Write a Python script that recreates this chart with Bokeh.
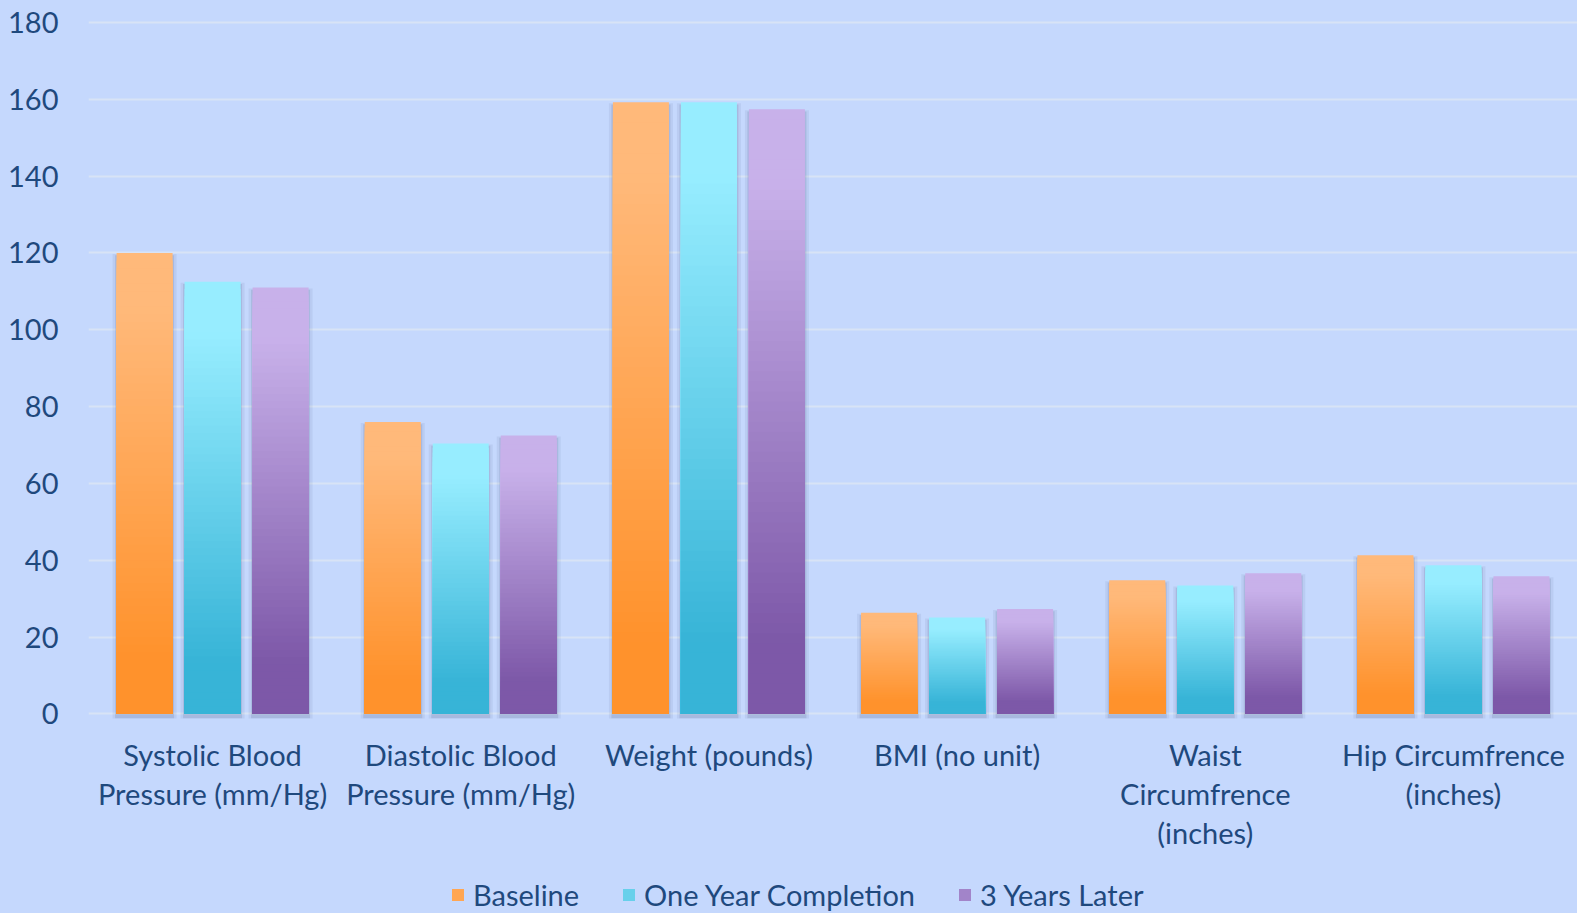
from bokeh.plotting import figure
from bokeh.layouts import column
from bokeh.models import ColumnDataSource, FixedTicker, Legend, LegendItem, Range1d
from bokeh.embed import file_html
from bokeh.resources import INLINE

# ---- data -------------------------------------------------------------
categories = [
    "Systolic Blood\nPressure (mm/Hg)",
    "Diastolic Blood\nPressure (mm/Hg)",
    "Weight (pounds)",
    "BMI (no unit)",
    "Waist\nCircumfrence\n(inches)",
    "Hip Circumfrence\n(inches)",
]
series_names = ["Baseline", "One Year Completion", "3 Years Later"]
baseline = [120, 76, 159.2, 26.3, 34.8, 41.3]
one_year = [112.5, 70.4, 159.2, 25.1, 33.4, 38.7]
three_years = [111, 72.5, 157.4, 27.3, 36.6, 35.8]
y_ticks = [0, 20, 40, 60, 80, 100, 120, 140, 160, 180]

# ---- style --------------------------------------------------------------
BG = "#c5d8fd"
GRID = "#d8e3f6"
TEXT = "#1f497d"
FONT = "Lato"
# (top colour, bottom colour) of each series' vertical gradient
gradients = [
    ((255, 185, 122), (255, 146, 44)),
    ((151, 237, 255), (55, 180, 215)),
    ((200, 177, 234), (125, 88, 168)),
]

W, H = 1577, 913
LEFT, TOP = 88, 20
LEGEND_H = 56
Y0, Y1 = -1.2, 180.5
PX_PER_Y = 3.844
FRAME_H = int(round((Y1 - Y0) * PX_PER_Y))
FRAME_W = W - LEFT
PX_PER_X = FRAME_W / 6.0

bar_w = 56 / PX_PER_X
step = 68 / PX_PER_X
offsets = [-step, 0.0, step]
N_SLICES = 60


def mix(c_top, c_bot, f):
    # f = 1 at the top of the bar, 0 at its base
    lo, hi = 0.12, 0.88
    t = min(max((f - lo) / (hi - lo), 0.0), 1.0)
    r, g, b = (round(c_bot[k] + (c_top[k] - c_bot[k]) * t) for k in range(3))
    return "#%02x%02x%02x" % (r, g, b)


p = figure(
    frame_width=FRAME_W, frame_height=FRAME_H,
    x_range=Range1d(-0.5, 5.5), y_range=Range1d(Y0, Y1),
    output_backend="svg", toolbar_location=None,
    min_border_left=LEFT, min_border_right=0, min_border_top=TOP,
    min_border_bottom=H - TOP - FRAME_H - LEGEND_H,
    background_fill_alpha=0, border_fill_color=BG, outline_line_color=None,
)

# gridlines
p.xgrid.grid_line_color = None
p.ygrid.ticker = FixedTicker(ticks=y_ticks)
p.ygrid.grid_line_color = GRID
p.ygrid.grid_line_width = 2

# soft shadows behind the bars
sh = dict(left=[], right=[], top=[], bottom=[])
sh2 = dict(left=[], right=[], top=[], bottom=[])
for s, vals in enumerate([baseline, one_year, three_years]):
    for i, v in enumerate(vals):
        cx = i + offsets[s]
        for d, e in ((sh, 1.5), (sh2, 4.0)):
            d["left"].append(cx - bar_w / 2 - e / PX_PER_X)
            d["right"].append(cx + bar_w / 2 + e / PX_PER_X)
            d["top"].append(v - (3 - e * 0.5) / PX_PER_Y)
            d["bottom"].append(-(3 + e) / PX_PER_Y)
p.quad(source=ColumnDataSource(sh2), fill_color="#2c3d66", fill_alpha=0.07, line_color=None)
p.quad(source=ColumnDataSource(sh), fill_color="#2c3d66", fill_alpha=0.13, line_color=None)

# gradient bars: nested slices drawn tallest first so no seams appear
for s, vals in enumerate([baseline, one_year, three_years]):
    c_top, c_bot = gradients[s]
    d = dict(left=[], right=[], top=[], bottom=[], color=[])
    for i, v in enumerate(vals):
        cx = i + offsets[s]
        for k in range(N_SLICES):
            f = (N_SLICES - k) / N_SLICES
            d["left"].append(cx - bar_w / 2)
            d["right"].append(cx + bar_w / 2)
            d["bottom"].append(0)
            d["top"].append(v * f)
            d["color"].append(mix(c_top, c_bot, f - 0.5 / N_SLICES))
    p.quad(source=ColumnDataSource(d), fill_color="color", line_color=None)

# axes
p.yaxis.ticker = FixedTicker(ticks=y_ticks)
p.yaxis.axis_line_color = None
p.yaxis.major_tick_line_color = None
p.yaxis.minor_tick_line_color = None
p.yaxis.major_label_text_font = FONT
p.yaxis.major_label_text_font_size = "29px"
p.yaxis.major_label_text_color = TEXT
p.yaxis.major_label_standoff = 24

p.xaxis.ticker = FixedTicker(ticks=list(range(len(categories))))
p.xaxis.major_label_overrides = {i: c for i, c in enumerate(categories)}
p.xaxis.axis_line_color = None
p.xaxis.major_tick_line_color = None
p.xaxis.minor_tick_line_color = None
p.xaxis.major_label_text_font = FONT
p.xaxis.major_label_text_font_size = "29px"
p.xaxis.major_label_text_color = TEXT
p.xaxis.major_label_text_line_height = 1.12
p.xaxis.major_label_standoff = 12

# ---- legend strip under the chart ---------------------------------------
lg = figure(
    width=W, height=LEGEND_H, x_range=Range1d(0, 1), y_range=Range1d(0, 1),
    output_backend="svg", toolbar_location=None,
    min_border=0, background_fill_alpha=0, border_fill_color=BG,
    outline_line_color=None,
)
lg.axis.visible = False
lg.grid.visible = False
items = []
for s, name in enumerate(series_names):
    c_top, c_bot = gradients[s]
    sw = lg.quad(left=[0], right=[0], bottom=[0], top=[0],
                 fill_color=mix(c_top, c_bot, 0.5), line_color=None)
    items.append(LegendItem(label=name, renderers=[sw]))
legend = Legend(
    items=items, orientation="horizontal", location=(362, 1),
    background_fill_alpha=0, border_line_color=None,
    label_text_font=FONT, label_text_font_size="29px", label_text_color=TEXT,
    glyph_width=15, glyph_height=15, label_standoff=8, spacing=42,
    padding=0, margin=0,
)
lg.add_layout(legend, "center")

layout = column(p, lg, spacing=0, styles={"background-color": BG})
open("out.html", "w").write(file_html(layout, INLINE))
